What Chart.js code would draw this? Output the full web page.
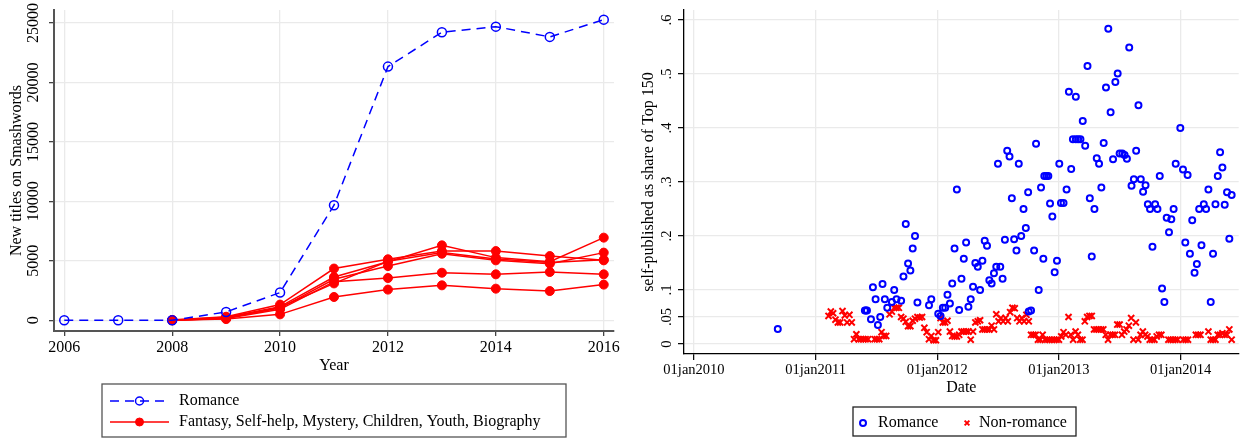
<!DOCTYPE html>
<html>
<head>
<meta charset="utf-8">
<script src="https://cdn.jsdelivr.net/npm/chart.js@4.4.1/dist/chart.umd.min.js"></script>
<style>
    body { margin: 0; background: #fff; }
    #wrap { position: relative; width: 1245px; height: 439px; }
    canvas { position: absolute; top: 0; }
</style>
</head>
<body>
<div id="wrap">
    <canvas id="titles" width="620" height="439" style="left:0"></canvas>
    <canvas id="share" width="625" height="439" style="left:620px"></canvas>
</div>
<script>
// ---- left panel: new titles per year ----
const years = [2006, 2007, 2008, 2009, 2010, 2011, 2012, 2013, 2014, 2015, 2016];
const yearTicks = [2006, 2008, 2010, 2012, 2014, 2016];
const titleTicks = [0, 5000, 10000, 15000, 20000, 25000];

const romance = [0, 0, 0, 700, 2330, 9680, 21330, 24220, 24690, 23830, 25280];
const fantasy = [null, null, 30, 300, 1320, 4350, 5130, 5820, 5820, 5400, 5040];
const selfHelp = [null, null, 20, 250, 1150, 3640, 4930, 6300, 5270, 4930, 6950];
const mystery = [null, null, 10, 200, 1030, 3450, 4560, 5600, 5040, 4760, 5690];
const children = [null, null, 10, 180, 1100, 3100, 4960, 5700, 5150, 4850, 5100];
const youth = [null, null, 10, 150, 920, 3250, 3555, 4000, 3865, 4060, 3865];
const biography = [null, null, 0, 100, 500, 1960, 2580, 2940, 2660, 2460, 3000];

// ---- right panel: share of Top 150 (dates as decimal years) ----
const dateTicks = [2010, 2011, 2012, 2013, 2014];
const shareTicks = [0, 0.05, 0.1, 0.2, 0.3, 0.4, 0.5, 0.6];

const romDate = [2010.689, 2011.405, 2011.414, 2011.422, 2011.455, 2011.471, 2011.493, 2011.512, 2011.531, 2011.550,
    2011.569, 2011.589, 2011.627, 2011.646, 2011.665, 2011.703, 2011.722, 2011.741, 2011.760, 2011.779,
    2011.798, 2011.817, 2011.837, 2011.932, 2011.951, 2012.008, 2012.027, 2012.046, 2012.065, 2012.084,
    2012.104, 2012.123, 2012.142, 2012.161, 2012.180, 2012.199, 2012.218, 2012.237, 2012.256, 2012.275,
    2012.294, 2012.313, 2012.333, 2012.352, 2012.371, 2012.390, 2012.409, 2012.428, 2012.447, 2012.466,
    2012.485, 2012.499, 2012.518, 2012.537, 2012.556, 2012.575, 2012.594, 2012.613, 2012.632, 2012.651,
    2012.670, 2012.690, 2012.709, 2012.728, 2012.747, 2012.752, 2012.771, 2012.796, 2012.812, 2012.834,
    2012.853, 2012.872, 2012.880, 2012.897, 2012.913, 2012.927, 2012.946, 2012.965, 2012.984, 2013.003,
    2013.017, 2013.038, 2013.063, 2013.082, 2013.101, 2013.115, 2013.139, 2013.158, 2013.177, 2013.139,
    2013.196, 2013.216, 2013.235, 2013.254, 2013.270, 2013.292, 2013.311, 2013.330, 2013.349, 2013.368,
    2013.387, 2013.406, 2013.425, 2013.445, 2013.464, 2013.483, 2013.499, 2013.521, 2013.540, 2013.559,
    2013.578, 2013.597, 2013.616, 2013.635, 2013.654, 2013.673, 2013.692, 2013.712, 2013.731, 2013.749,
    2013.769, 2013.791, 2013.810, 2013.829, 2013.848, 2013.867, 2013.886, 2013.905, 2013.924, 2013.943,
    2013.960, 2013.998, 2014.020, 2014.039, 2014.058, 2014.077, 2014.096, 2014.115, 2014.134, 2014.153,
    2014.172, 2014.191, 2014.210, 2014.229, 2014.248, 2014.267, 2014.287, 2014.306, 2014.325, 2014.344,
    2014.363, 2014.382, 2014.401, 2014.420];
const romShare = [0.028, 0.062, 0.062, 0.062, 0.046, 0.105, 0.083, 0.035, 0.050, 0.111,
    0.083, 0.067, 0.078, 0.100, 0.083, 0.080, 0.125, 0.222, 0.149, 0.136,
    0.177, 0.200, 0.077, 0.072, 0.083, 0.056, 0.052, 0.067, 0.067, 0.091,
    0.075, 0.112, 0.177, 0.286, 0.063, 0.121, 0.158, 0.188, 0.069, 0.083,
    0.106, 0.150, 0.143, 0.100, 0.154, 0.191, 0.182, 0.118, 0.112, 0.131,
    0.143, 0.334, 0.143, 0.121, 0.193, 0.358, 0.347, 0.270, 0.194, 0.173,
    0.334, 0.200, 0.250, 0.215, 0.281, 0.060, 0.062, 0.173, 0.371, 0.100,
    0.290, 0.158, 0.311, 0.311, 0.311, 0.260, 0.236, 0.133, 0.154, 0.334,
    0.261, 0.261, 0.286, 0.467, 0.324, 0.379, 0.379, 0.379, 0.379, 0.458,
    0.413, 0.367, 0.515, 0.270, 0.162, 0.250, 0.344, 0.334, 0.290, 0.372,
    0.475, 0.584, 0.429, 0.342, 0.485, 0.501, 0.353, 0.353, 0.350, 0.343,
    0.549, 0.293, 0.305, 0.358, 0.442, 0.305, 0.282, 0.294, 0.259, 0.250,
    0.180, 0.259, 0.250, 0.311, 0.103, 0.078, 0.234, 0.207, 0.231, 0.250,
    0.334, 0.400, 0.323, 0.188, 0.313, 0.167, 0.229, 0.132, 0.148, 0.250,
    0.183, 0.259, 0.250, 0.286, 0.078, 0.167, 0.259, 0.311, 0.355, 0.327,
    0.258, 0.281, 0.195, 0.276];

const nonRomDate = [2011.106, 2011.125, 2011.144, 2011.163, 2011.183, 2011.202, 2011.221, 2011.240, 2011.259, 2011.278,
    2011.297, 2011.316, 2011.335, 2011.354, 2011.373, 2011.392, 2011.411, 2011.431, 2011.485, 2011.504,
    2011.523, 2011.542, 2011.561, 2011.580, 2011.608, 2011.627, 2011.646, 2011.665, 2011.684, 2011.703,
    2011.722, 2011.741, 2011.760, 2011.779, 2011.798, 2011.817, 2011.837, 2011.856, 2011.875, 2011.894,
    2011.913, 2011.932, 2011.951, 2011.970, 2011.989, 2012.008, 2012.027, 2012.046, 2012.065, 2012.084,
    2012.104, 2012.123, 2012.142, 2012.161, 2012.180, 2012.199, 2012.218, 2012.237, 2012.256, 2012.275,
    2012.294, 2012.313, 2012.333, 2012.352, 2012.371, 2012.390, 2012.409, 2012.428, 2012.447, 2012.466,
    2012.485, 2012.504, 2012.523, 2012.542, 2012.561, 2012.580, 2012.599, 2012.618, 2012.637, 2012.657,
    2012.676, 2012.695, 2012.714, 2012.733, 2012.752, 2012.771, 2012.790, 2012.809, 2012.828, 2012.847,
    2012.866, 2012.885, 2012.904, 2012.923, 2012.943, 2012.962, 2012.981, 2013.000, 2013.019, 2013.038,
    2013.057, 2013.079, 2013.098, 2013.117, 2013.137, 2013.156, 2013.175, 2013.194, 2013.213, 2013.232,
    2013.251, 2013.270, 2013.289, 2013.308, 2013.327, 2013.346, 2013.365, 2013.385, 2013.404, 2013.423,
    2013.442, 2013.461, 2013.480, 2013.499, 2013.518, 2013.537, 2013.556, 2013.575, 2013.594, 2013.613,
    2013.633, 2013.652, 2013.671, 2013.690, 2013.709, 2013.728, 2013.747, 2013.766, 2013.785, 2013.804,
    2013.823, 2013.842, 2013.900, 2013.919, 2013.938, 2013.957, 2013.976, 2014.022, 2014.042, 2014.061,
    2014.126, 2014.145, 2014.164, 2014.229, 2014.248, 2014.267, 2014.287, 2014.306, 2014.325, 2014.344,
    2014.363, 2014.382, 2014.401, 2014.420];
const nonRomShare = [0.052, 0.060, 0.057, 0.045, 0.040, 0.040, 0.061, 0.053, 0.040, 0.054,
    0.040, 0.009, 0.018, 0.009, 0.009, 0.009, 0.009, 0.009, 0.009, 0.009,
    0.009, 0.022, 0.015, 0.015, 0.055, 0.060, 0.067, 0.067, 0.067, 0.050,
    0.047, 0.041, 0.033, 0.033, 0.043, 0.047, 0.050, 0.049, 0.050, 0.030,
    0.022, 0.009, 0.015, 0.007, 0.007, 0.022, 0.048, 0.040, 0.040, 0.043,
    0.023, 0.015, 0.014, 0.014, 0.017, 0.023, 0.023, 0.023, 0.023, 0.008,
    0.023, 0.040, 0.042, 0.044, 0.027, 0.027, 0.027, 0.027, 0.034, 0.027,
    0.055, 0.042, 0.048, 0.042, 0.048, 0.042, 0.059, 0.067, 0.066, 0.048,
    0.042, 0.048, 0.042, 0.054, 0.042, 0.017, 0.017, 0.017, 0.008, 0.008,
    0.017, 0.008, 0.008, 0.008, 0.008, 0.008, 0.008, 0.008, 0.014, 0.022,
    0.017, 0.050, 0.017, 0.008, 0.023, 0.017, 0.008, 0.008, 0.042, 0.050,
    0.052, 0.052, 0.027, 0.027, 0.027, 0.027, 0.027, 0.017, 0.008, 0.017,
    0.017, 0.017, 0.036, 0.036, 0.017, 0.023, 0.027, 0.034, 0.048, 0.008,
    0.040, 0.008, 0.017, 0.023, 0.017, 0.014, 0.008, 0.008, 0.008, 0.014,
    0.017, 0.017, 0.008, 0.008, 0.008, 0.008, 0.008, 0.008, 0.008, 0.008,
    0.017, 0.017, 0.017, 0.023, 0.008, 0.008, 0.008, 0.017, 0.017, 0.020,
    0.017, 0.017, 0.027, 0.008];

const SERIF = '"Liberation Serif", "Times New Roman", serif';
const GRID = 'rgb(234,234,234)';

// boxed legend drawn on the canvas, styles taken from the datasets
const boxLegend = {
    id: 'boxLegend',
    afterDraw(chart, args, opts) {
        const ctx = chart.ctx;
        ctx.save();
        ctx.lineWidth = opts.borderWidth;
        ctx.strokeStyle = opts.borderColor;
        ctx.strokeRect(opts.left, opts.top, opts.width, opts.height);
        ctx.font = '16px ' + SERIF;
        ctx.textBaseline = 'middle';
        opts.items.forEach((item) => {
            const ds = chart.data.datasets[item.dataset];
            const y = item.y;
            if (item.lineLength) {
                ctx.beginPath();
                ctx.setLineDash(ds.borderDash || []);
                ctx.lineWidth = ds.borderWidth;
                ctx.strokeStyle = ds.borderColor;
                ctx.moveTo(item.x, y);
                ctx.lineTo(item.x + item.lineLength, y);
                ctx.stroke();
                ctx.setLineDash([]);
            }
            const px = item.x + (item.lineLength || 0) / 2;
            const r = item.radius || ds.pointRadius;
            ctx.lineWidth = ds.pointBorderWidth;
            ctx.strokeStyle = ds.pointBorderColor;
            ctx.fillStyle = ds.pointBackgroundColor;
            ctx.beginPath();
            if (ds.pointStyle === 'crossRot') {
                ctx.moveTo(px - r * 0.7, y - r * 0.7);
                ctx.lineTo(px + r * 0.7, y + r * 0.7);
                ctx.moveTo(px + r * 0.7, y - r * 0.7);
                ctx.lineTo(px - r * 0.7, y + r * 0.7);
                ctx.stroke();
            } else {
                ctx.arc(px, y, r, 0, Math.PI * 2);
                ctx.fill();
                ctx.stroke();
            }
            ctx.fillStyle = '#000';
            ctx.textAlign = 'left';
            ctx.fillText(item.text, item.textX, y);
        });
        ctx.restore();
    }
};

function fixWidth(w) {
    return (scale) => {
        scale.width = w;
        scale.paddingTop = 0;
        scale.paddingBottom = 0;
    };
}
function fixHeight(h) {
    return (scale) => {
        scale.height = h;
        scale.paddingLeft = 0;
        scale.paddingRight = 0;
    };
}
function setTicks(values) {
    return (scale) => {
        scale.ticks = values.map((v) => ({ value: v }));
    };
}

function redLine(values) {
    return {
        data: values,
        borderColor: '#ff0000',
        backgroundColor: '#ff0000',
        borderWidth: 1.5,
        pointRadius: 4.5,
        pointBorderWidth: 1,
        pointBackgroundColor: '#ff0000',
        pointBorderColor: '#ff0000',
        pointStyle: 'circle',
    };
}

new Chart(document.getElementById('titles'), {
    type: 'line',
    data: {
        labels: years,
        datasets: [
            {
                data: romance,
                borderColor: '#0000ff',
                borderWidth: 1.5,
                borderDash: [9, 6],
                pointRadius: 4.5,
                pointBorderWidth: 1.5,
                pointBackgroundColor: 'rgba(255,255,255,0)',
                pointBorderColor: '#0000ff',
                pointStyle: 'circle',
            },
            redLine(fantasy),
            redLine(selfHelp),
            redLine(mystery),
            redLine(children),
            redLine(youth),
            redLine(biography),
        ].map((ds) => ({ ...ds, parsing: false, data: ds.data.map((v, i) => ({ x: years[i], y: v })) })),
    },
    options: {
        responsive: false,
        animation: false,
        spanGaps: false,
        layout: { padding: { top: 10, left: 0, right: 6, bottom: 64 } },
        elements: { line: { tension: 0 } },
        plugins: {
            legend: { display: false },
            tooltip: { enabled: false },
            boxLegend: {
                left: 102, top: 384, width: 464, height: 53,
                borderColor: '#555', borderWidth: 1.3,
                items: [
                    { dataset: 0, x: 110, lineLength: 59, y: 401, textX: 179, text: 'Romance', radius: 4 },
                    { dataset: 1, x: 110, lineLength: 59, y: 422, textX: 179, text: 'Fantasy, Self-help, Mystery, Children, Youth, Biography', radius: 4 },
                ],
            },
        },
        scales: {
            x: {
                type: 'linear',
                min: 2005.81,
                max: 2016.19,
                afterBuildTicks: setTicks(yearTicks),
                afterFit: fixHeight(44),
                grid: { color: GRID, lineWidth: 1.3, tickLength: 5, tickColor: '#444', tickWidth: 1.3 },
                border: { color: '#555', width: 2 },
                ticks: {
                    color: '#000', maxRotation: 0, padding: 2.4,
                    font: { family: SERIF, size: 16 },
                    callback: (v) => String(v),
                },
                title: { display: true, text: 'Year', color: '#000', font: { family: SERIF, size: 16 }, padding: { top: 0, bottom: 0 } },
            },
            y: {
                min: -900,
                max: 26090,
                afterBuildTicks: setTicks(titleTicks),
                afterFit: fixWidth(54),
                grid: { color: GRID, lineWidth: 1.3, tickLength: 5, tickColor: '#444', tickWidth: 1.3 },
                border: { color: '#555', width: 2 },
                ticks: {
                    color: '#000', minRotation: 90, maxRotation: 90, crossAlign: 'center', padding: -5,
                    font: { family: SERIF, size: 16 },
                    callback: (v) => String(v),
                },
                title: { display: true, text: 'New titles on Smashwords', color: '#000', font: { family: SERIF, size: 16 }, padding: { top: 7.4, bottom: 0 } },
            },
        },
    },
    plugins: [boxLegend],
});

new Chart(document.getElementById('share'), {
    type: 'scatter',
    data: {
        datasets: [
            {
                data: romDate.map((d, i) => ({ x: d, y: romShare[i] })),
                pointStyle: 'circle',
                pointRadius: 3,
                pointBorderWidth: 2,
                pointBorderColor: '#0000ff',
                pointBackgroundColor: 'rgba(255,255,255,0)',
            },
            {
                data: nonRomDate.map((d, i) => ({ x: d, y: nonRomShare[i] })),
                pointStyle: 'crossRot',
                pointRadius: 4.3,
                pointBorderWidth: 2,
                pointBorderColor: '#ff0000',
                pointBackgroundColor: '#ff0000',
            },
        ],
    },
    options: {
        responsive: false,
        animation: false,
        layout: { padding: { top: 10, left: 0, right: 3, bottom: 42 } },
        plugins: {
            legend: { display: false },
            tooltip: { enabled: false },
            boxLegend: {
                left: 233, top: 407, width: 223, height: 29,
                borderColor: '#222', borderWidth: 1.3,
                items: [
                    { dataset: 0, x: 243, y: 423, textX: 258, text: 'Romance' },
                    { dataset: 1, x: 347, y: 423, textX: 359, text: 'Non-romance', radius: 3.4 },
                ],
            },
        },
        scales: {
            x: {
                type: 'linear',
                min: 2009.918,
                max: 2014.478,
                afterBuildTicks: setTicks(dateTicks),
                afterFit: fixHeight(43),
                grid: { color: GRID, lineWidth: 1.3, tickLength: 6, tickColor: '#000', tickWidth: 1.2 },
                border: { color: '#000', width: 1.3 },
                ticks: {
                    color: '#000', maxRotation: 0, padding: 1,
                    font: { family: SERIF, size: 14.5 },
                    callback: (v) => '01jan' + v,
                },
                title: { display: true, text: 'Date', color: '#000', font: { family: SERIF, size: 16 }, padding: { top: 0, bottom: 0 } },
            },
            y: {
                min: -0.0185,
                max: 0.6185,
                afterBuildTicks: setTicks(shareTicks),
                afterFit: fixWidth(64),
                grid: { color: GRID, lineWidth: 1.3, tickLength: 6, tickColor: '#000', tickWidth: 1.2 },
                border: { color: '#000', width: 1.3 },
                ticks: {
                    color: '#000', minRotation: 90, maxRotation: 90, crossAlign: 'center', padding: 1.3,
                    font: { family: SERIF, size: 14.5 },
                    callback: (v) => (v === 0 ? '0' : String(+v.toFixed(2)).replace(/^0\./, '.')),
                },
                title: { display: true, text: 'self-published as share of Top 150', color: '#000', font: { family: SERIF, size: 16 }, padding: { top: 19.4, bottom: 0 } },
            },
        },
    },
    plugins: [boxLegend],
});
</script>
</body>
</html>
